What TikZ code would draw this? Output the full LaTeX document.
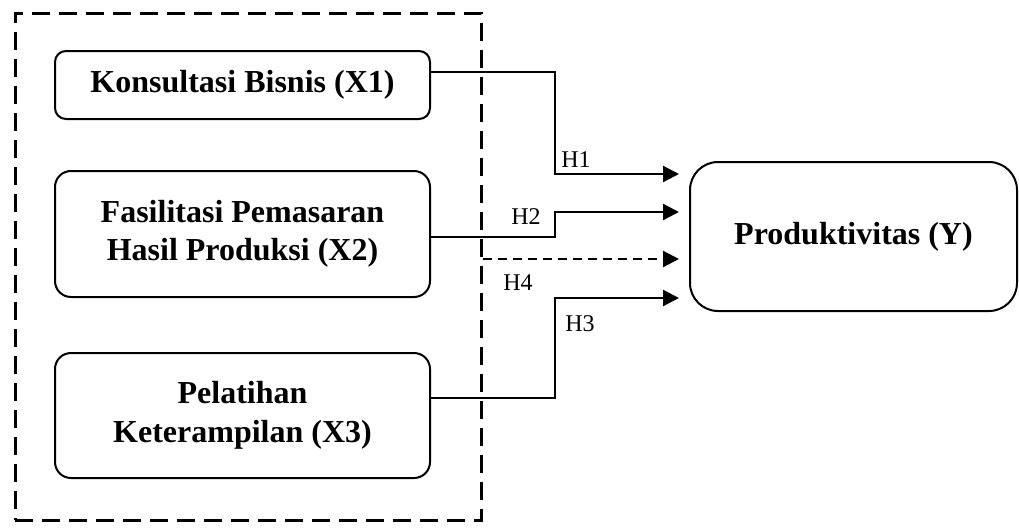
\documentclass[tikz,border=0pt]{standalone}
\usepackage{fontspec}
\setmainfont{Liberation Serif}
\usetikzlibrary{arrows.meta}
\begin{document}
\begin{tikzpicture}[x=1pt,y=-1pt,
  varbox/.style={draw,line width=2pt,rounded corners=#1,align=center,inner sep=0pt,
    font=\fontsize{32}{38.5}\selectfont\bfseries},
  grpbox/.style={draw,line width=3pt,dash pattern=on 18pt off 9pt,inner sep=0pt},
  link/.style={line width=2.2pt,-{Triangle[length=16pt,width=16pt]}},
  dlink/.style={line width=2.2pt,dash pattern=on 9pt off 6pt,-{Triangle[length=16pt,width=16pt]}},
  hlab/.style={font=\fontsize{24}{28}\selectfont,inner sep=0pt}]
\useasboundingbox (0,0) rectangle (1019,530);
\node[grpbox,minimum width=466pt,minimum height=507pt] (grp) at (248,266.5) {};
\node[varbox=11pt,minimum width=375pt,minimum height=68pt] (x1) at (242.5,85) {Konsultasi Bisnis (X1)};
\node[varbox=16pt,minimum width=375pt,minimum height=126pt] (x2) at (242.5,234) {Fasilitasi Pemasaran\\Hasil Produksi (X2)};
\node[varbox=16pt,minimum width=375pt,minimum height=125pt] (x3) at (242.5,415.5) {Pelatihan\\Keterampilan (X3)};
\node[varbox=28pt,minimum width=327pt,minimum height=149pt] (y) at (853.5,236.5) {Produktivitas (Y)};
\coordinate (t1) at ([xshift=-10pt,yshift=62.5pt]y.west);
\coordinate (t2) at ([xshift=-10pt,yshift=24.5pt]y.west);
\coordinate (t4) at ([xshift=-10pt,yshift=-22.5pt]y.west);
\coordinate (t3) at ([xshift=-10pt,yshift=-61.5pt]y.west);
\draw[link] ([yshift=13pt]x1.east) -| (555,174) -- (t1);
\draw[link] ([yshift=-3pt]x2.east) -| (555,212) -- (t2);
\draw[dlink] ([yshift=7.5pt]grp.east) -- (t4);
\draw[link] ([yshift=17.5pt]x3.east) -| (555,298) -- (t3);
\node[hlab] (h1) at (576,160) {H1};
\node[hlab] (h2) at (526,217) {H2};
\node[hlab] (h4) at (518,283) {H4};
\node[hlab] (h3) at (580,324) {H3};
\end{tikzpicture}
\end{document}
